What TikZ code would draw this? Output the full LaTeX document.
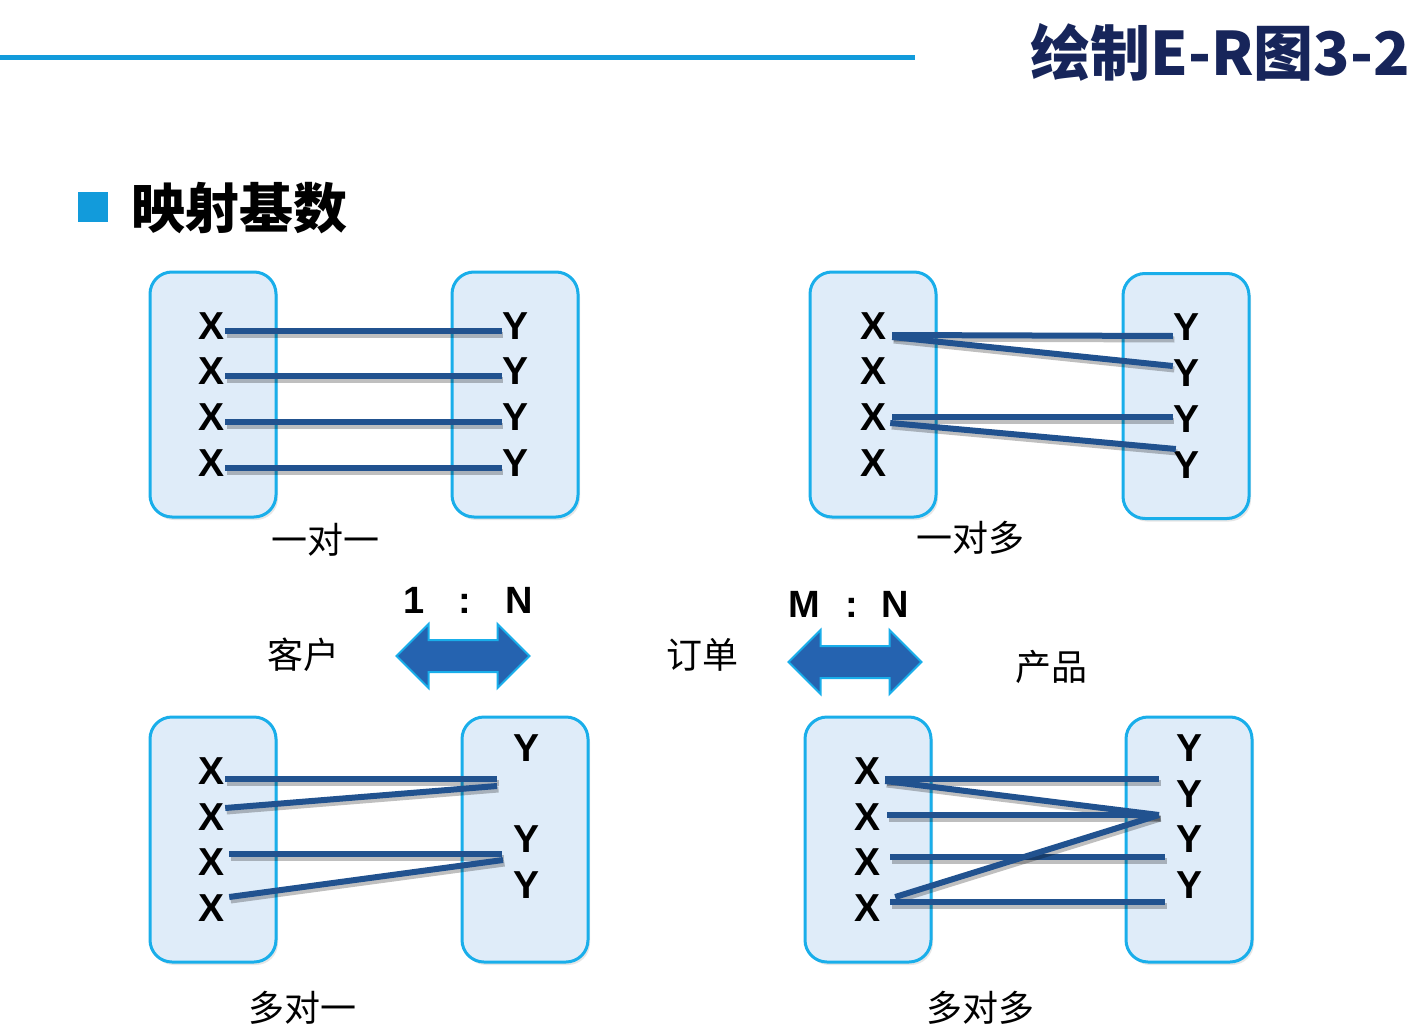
\documentclass[tikz,border=0pt]{standalone}
\usepackage{fontspec}
\setmainfont{Liberation Sans}
\newfontfamily\cjk{Noto Sans CJK SC}
\usepackage{tikz}
\usetikzlibrary{shapes.arrows,shadows}
\definecolor{rulecyan}{HTML}{129BDB}
\definecolor{titlenavy}{HTML}{17255A}
\definecolor{boxedge}{HTML}{19AEEA}
\definecolor{boxfill}{HTML}{DFECF9}
\definecolor{linkblue}{HTML}{21528F}
\definecolor{arrowblue}{HTML}{2563B0}
\tikzset{
  setbox/.style={draw=boxedge,fill=boxfill,line width=3pt,rounded corners=22pt,
    minimum width=126pt,minimum height=245pt,
    drop shadow={shadow xshift=2pt,shadow yshift=-3pt,opacity=.2}},
  ent/.style={inner sep=0pt,font=\fontsize{39}{40}\selectfont\bfseries},
  link/.style={draw=linkblue,line width=6pt,
    preaction={draw=black,opacity=.25,line width=6pt,transform canvas={shift={(1.5pt,-3.5pt)}}}},
}
\newcommand{\cjkfont}[1]{\cjk\fontsize{#1}{#1}\selectfont}

\begin{document}
\begin{tikzpicture}[x=1pt,y=-1pt,
  card/.style={inner sep=0pt,font=\cjkfont{36}},
  ratio/.style={inner sep=0pt,font=\fontsize{38}{40}\selectfont\bfseries},
  relarrow/.style={double arrow,draw=boxedge,fill=arrowblue,line width=2pt,
    minimum height=133pt,inner sep=15pt,double arrow head extend=16pt},
]
  \useasboundingbox (0,0) rectangle (1410,1035);

  % heading
  \draw[rulecyan,line width=5pt] (0,58) -- (915,58);
  \node[inner sep=0pt,anchor=east,text=titlenavy,font=\cjkfont{60}\bfseries] (title) at (1410,52) {绘制E-R图3-2};
  \fill[rulecyan] (78,192) rectangle (108,222);
  \node[inner sep=0pt,anchor=west,font=\cjkfont{54}\bfseries] (sub) at (131,208) {映射基数};

  % 1 one-to-one
  \node[setbox] (L1) at (213,394.5) {};
  \node[setbox] (R1) at (515,394.5) {};
  \foreach \i/\y in {1/326,2/371,3/417,4/463} {
    \node[ent] (a\i) at (212,\y) {X};
    \node[ent] (b\i) at (515,\y) {Y};
    \draw[link] ([yshift=-5pt]a\i.east) -- ([yshift=-5pt]b\i.west);
  }
  \node[card] (c1) at (325,540) {一对一};

  % 2 one-to-many
  \node[setbox] (L2) at (873,394.5) {};
  \node[setbox] (R2) at (1186,396) {};
  \foreach \i/\y in {1/326,2/371,3/417,4/463}
    \node[ent] (d\i) at (873,\y) {X};
  \foreach \i/\y in {1/327,2/373,3/419,4/465}
    \node[ent] (e\i) at (1186,\y) {Y};
  \draw[link] ([shift={(6pt,-9pt)}]d1.east) -- ([yshift=-9pt]e1.west);
  \draw[link] ([shift={(6pt,-11pt)}]d1.east) -- ([yshift=7pt]e2.west);
  \draw[link] ([xshift=6pt]d3.east) -- ([yshift=2pt]e3.west);
  \draw[link] ([shift={(4pt,-6pt)}]d3.east) -- ([shift={(3pt,16pt)}]e4.west);
  \node[card] (c2) at (970,538) {一对多};

  % relationship arrows
  \node[ratio] (r1) at (468,600) {1\hspace{34pt}:\hspace{34pt}N};
  \node[ratio] (r2) at (849,604) {M\hspace{25pt}:\hspace{24pt}N};
  \node[card] (ent1) at (303,655) {客户};
  \node[card] (ent2) at (702,655) {订单};
  \node[card] (ent3) at (1051,667) {产品};
  \node[relarrow] (rel1) at (463,656) {};
  \node[relarrow] (rel2) at (855,662) {};

  % 3 many-to-one
  \node[setbox] (L3) at (213,839.5) {};
  \node[setbox] (R3) at (525,839.5) {};
  \foreach \i/\y in {1/771,2/817,3/862,4/908}
    \node[ent] (f\i) at (212,\y) {X};
  \foreach \i/\y in {1/748,2/839,3/885}
    \node[ent] (g\i) at (526,\y) {Y};
  \coordinate (m1) at (497,779);
  \coordinate (m2) at (497,786);
  \coordinate (m3) at (502,854);
  \coordinate (m4) at (503,860);
  \draw[link] ([yshift=-8pt]f1.east) -- (m1);
  \draw[link] ([yshift=9pt]f2.east) -- (m2);
  \draw[link] ([shift={(4pt,8pt)}]f3.east) -- (m3);
  \draw[link] ([shift={(4pt,11pt)}]f4.east) -- (m4);
  \node[card] (c3) at (302,1008) {多对一};

  % 4 many-to-many
  \node[setbox] (L4) at (868,839.5) {};
  \node[setbox] (R4) at (1189,839.5) {};
  \foreach \i/\y in {1/771,2/817,3/862,4/908}
    \node[ent] (h\i) at (867,\y) {X};
  \foreach \i/\y in {1/748,2/794,3/839,4/885}
    \node[ent] (k\i) at (1189,\y) {Y};
  \coordinate (q1) at (1159,779);
  \coordinate (q2) at (1159,815);
  \coordinate (q3) at (1165,857);
  \coordinate (q4) at (1165,902);
  \draw[link] ([shift={(5pt,-8pt)}]h1.east) -- (q1);
  \draw[link] ([shift={(5pt,-10pt)}]h1.east) -- (q2);
  \draw[link] ([shift={(7pt,2pt)}]h2.east) -- (q2);
  \draw[link] ([shift={(10pt,5pt)}]h3.east) -- (q3);
  \draw[link] ([shift={(15pt,11pt)}]h4.east) -- (q2);
  \draw[link] ([shift={(10pt,6pt)}]h4.east) -- (q4);
  \node[card] (c4) at (980,1008) {多对多};
\end{tikzpicture}
\end{document}
